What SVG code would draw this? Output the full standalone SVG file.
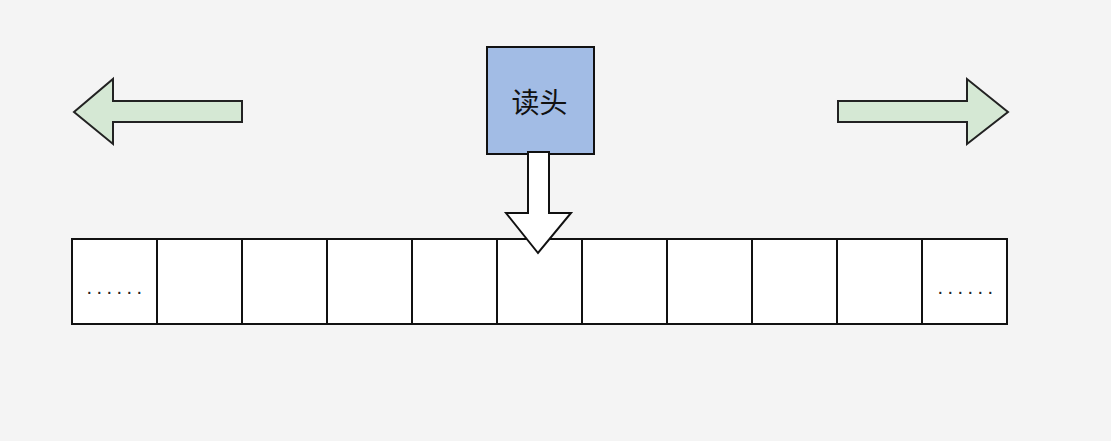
<svg xmlns="http://www.w3.org/2000/svg" width="1111" height="441" viewBox="0 0 1111 441">
<style>
.bg{fill:#f4f4f4}
.big{fill:#d5e8d4;stroke:#222;stroke-width:2;stroke-linejoin:miter}
.cell{fill:#ffffff;stroke:#111;stroke-width:2}
.head{fill:#a2bce5;stroke:#111;stroke-width:2}
.down{fill:#ffffff;stroke:#111;stroke-width:2}
.lbl{font-family:"Liberation Sans","Noto Sans CJK SC",sans-serif;fill:#111}
.dots{font-family:"Liberation Sans",sans-serif;font-size:20px;letter-spacing:4.44px;fill:#222}
</style>
<rect class="bg" x="0" y="0" width="1111" height="441"/>
<g id="arrow-left">
<polygon class="big" points="74,112 113,79 113,101 242,101 242,122 113,122 113,144"/>
</g>
<g id="arrow-right">
<polygon class="big" points="1008,112 967,79 967,101 838,101 838,122 967,122 967,144"/>
</g>
<g id="tape">
<rect class="cell" x="72" y="239" width="85" height="85"/>
<rect class="cell" x="157" y="239" width="85" height="85"/>
<rect class="cell" x="242" y="239" width="85" height="85"/>
<rect class="cell" x="327" y="239" width="85" height="85"/>
<rect class="cell" x="412" y="239" width="85" height="85"/>
<rect class="cell" x="497" y="239" width="85" height="85"/>
<rect class="cell" x="582" y="239" width="85" height="85"/>
<rect class="cell" x="667" y="239" width="85" height="85"/>
<rect class="cell" x="752" y="239" width="85" height="85"/>
<rect class="cell" x="837" y="239" width="85" height="85"/>
<rect class="cell" x="922" y="239" width="85" height="85"/>
<text class="dots" x="86.5" y="293.5">......</text>
<text class="dots" x="937.5" y="293.5">......</text>
</g>
<g id="read-head">
<rect class="head" x="487" y="47" width="107" height="107"/>
<text class="lbl" x="539.5" y="113" font-size="28" text-anchor="middle">读头</text>
</g>
<g id="connectors">
<polygon class="down" points="528,152 549,152 549,213 571,213 538,253 506,213 528,213"/>
</g>
</svg>
